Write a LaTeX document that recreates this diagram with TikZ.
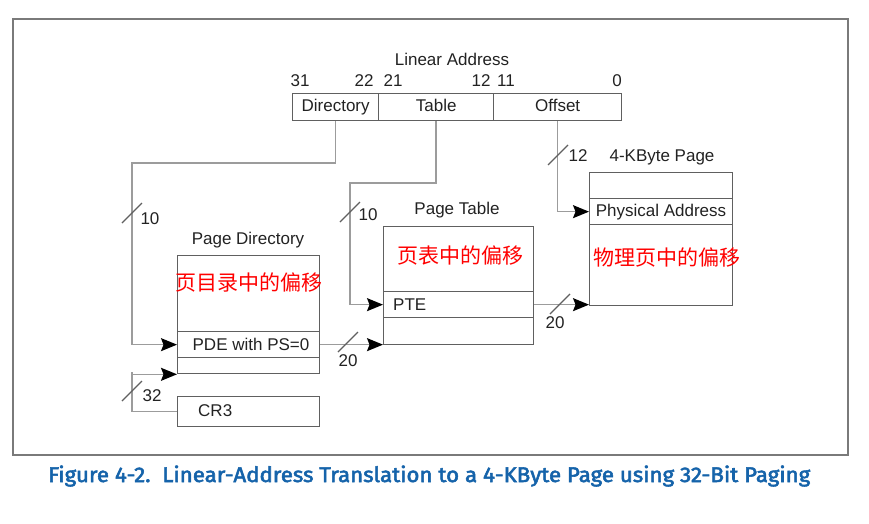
\documentclass[tikz,border=0pt]{standalone}
\usepackage{fontspec}
\setmainfont{Liberation Sans}
\newfontfamily\cjk{Noto Sans CJK SC}
\newfontfamily\capfont[FakeBold=2.5]{Fira Sans}
\usetikzlibrary{arrows.meta,calc}
\definecolor{capblue}{HTML}{1563AA}
\definecolor{boxline}{HTML}{606060}
\definecolor{conline}{HTML}{9C9C9C}
\definecolor{txt}{HTML}{222222}
\definecolor{frameline}{HTML}{7A7A7A}
\tikzset{arr/.style={draw=conline, line width=1.4pt, -{Stealth[length=16pt,width=13pt,inset=2.5pt,black]}}}
\begin{document}
\begin{tikzpicture}[x=1pt,y=-1pt,
  lbl/.style={font=\fontsize{17}{19}\selectfont, text=txt, inner sep=0pt},
  field/.style={text height=12pt, text depth=3.5pt},
  cn/.style={font=\cjk\fontsize{21}{23}\selectfont, text=red, inner sep=0pt},
  bx/.style={draw=boxline, line width=1.3pt, inner sep=0pt, anchor=north west},
  slashln/.style={draw=boxline, line width=1.2pt}
]
\useasboundingbox (0,0) rectangle (869,523);
% outer frame
\node[draw=frameline, line width=1.6pt, anchor=north west, minimum width=835pt, minimum height=436pt, inner sep=0pt] (frame) at (12,18) {};

% linear address
\node[lbl] (latitle) at (452,59) {Linear Address};
\node[lbl] (b31) at (300,81) {31};
\node[lbl] (b22) at (364,81) {22};
\node[lbl] (b21) at (393,81) {21};
\node[lbl] (b12) at (481,81) {12};
\node[lbl] (b11) at (506,81) {11};
\node[lbl] (b0)  at (617,81) {0};
\node[bx, lbl, field, minimum width=86pt, minimum height=27pt] (dirf) at (292,93) {Directory};
\node[bx, lbl, field, minimum width=115pt, minimum height=27pt] (tabf) at (378,93) {Table};
\node[bx, lbl, field, minimum width=128pt, minimum height=27pt] (offf) at (493,93) {Offset};

% page directory
\node[lbl] (pdtitle) at (248,240) {Page Directory};
\node[bx, minimum width=142pt, minimum height=118pt] (pd) at (177,255) {};
\node[cn] (pdcn) at (249,283) {页目录中的偏移};
\node[bx, minimum width=142pt, minimum height=26pt] (pde) at (177,331) {};
\node[lbl] (pdetxt) at (251,344) {PDE with PS=0};

% CR3
\node[bx, minimum width=142pt, minimum height=30pt] (cr3) at (177,396) {};
\node[lbl, anchor=west] (cr3txt) at (198,411) {CR3};

% page table
\node[lbl] (pttitle) at (457,210) {Page Table};
\node[bx, minimum width=150pt, minimum height=118pt] (pt) at (383,226) {};
\node[cn] (ptcn) at (460,256) {页表中的偏移};
\node[bx, minimum width=150pt, minimum height=26pt] (pte) at (383,291) {};
\node[lbl, anchor=west] (ptetxt) at (393,305) {PTE};

% 4-KByte page
\node[lbl] (pgtitle) at (662,157) {4-KByte Page};
\node[bx, minimum width=143pt, minimum height=133pt] (pg) at (589,172) {};
\node[bx, minimum width=143pt, minimum height=26pt] (pa) at (589,198) {};
\node[lbl] (patxt) at (661,212) {Physical Address};
\node[cn] (pgcn) at (667,258) {物理页中的偏移};

% bend points
\coordinate (k1) at (132,163);
\coordinate (k2) at (350,183);
\coordinate (k6) at (132,372);

% connectors
\draw[arr] (dirf.south) |- (k1) |- (pde.west);
\draw[arr] (tabf.south) |- (k2) |- (pte.west);
\draw[arr] (offf.south) |- (pa.west);
\draw[arr] (pde.east) -- (pt.west |- pde.east);
\draw[arr] (pte.east) -- (pg.west |- pte.east);
\draw[arr] (cr3.west) -| (k6) |- (pd.south west);

% width slashes and labels
\draw[slashln] (122,223) -- (142,203);
\node[lbl] (w10a) at (150,219) {10};
\draw[slashln] (340,222) -- (360,202);
\node[lbl] (w10b) at (368,215) {10};
\draw[slashln] (548,165) -- (568,145);
\node[lbl] (w12) at (578,156) {12};
\draw[slashln] (338,352) -- (358,332);
\node[lbl] (w20a) at (348,361) {20};
\draw[slashln] (550,314) -- (570,294);
\node[lbl] (w20b) at (555,323) {20};
\draw[slashln] (122,401) -- (142,381);
\node[lbl] (w32) at (152,396) {32};

% caption
\node[inner sep=0pt, anchor=base west, text=capblue] (cap) at (48,482)
  {\resizebox{762pt}{16.5pt}{\capfont Figure 4-2.\ \ Linear-Address Translation to a 4-KByte Page using 32-Bit Paging}};
\end{tikzpicture}
\end{document}
